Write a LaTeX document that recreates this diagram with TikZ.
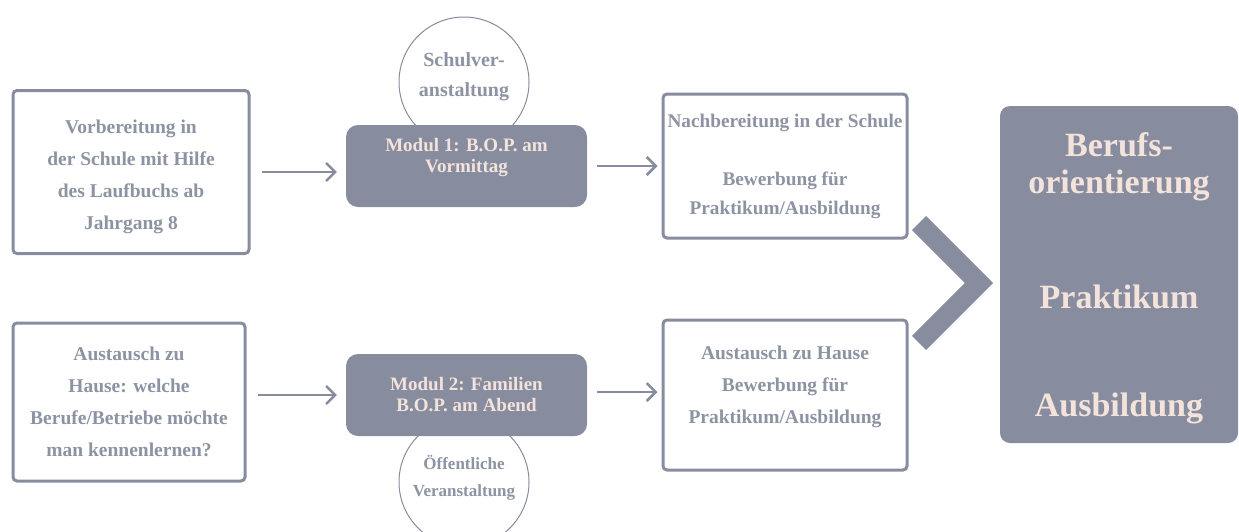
\documentclass[tikz,border=0pt]{standalone}
\usepackage{fontspec}
\setmainfont{Liberation Serif}
\usepackage{tikz}
\usetikzlibrary{positioning,arrows.meta,calc}
\definecolor{bopgrey}{HTML}{878D9F}
\definecolor{boppeach}{HTML}{F3E3DB}
\definecolor{boptext}{HTML}{8D93A3}
\begin{document}
\begin{tikzpicture}[
x=1pt,y=-1pt,
mybox/.style={
  draw=bopgrey,
  line width=3pt,
  rounded corners=4pt,
  fill=white,
  inner sep=0pt,
  align=center,
  text=boptext,
  font=\fontsize{19.5}{32}\selectfont\bfseries},
mymod/.style={
  fill=bopgrey,
  rounded corners=12pt,
  minimum width=241pt,
  minimum height=82pt},
modtext/.style={
  align=center,
  text=boppeach,
  font=\fontsize{19}{21}\selectfont\bfseries},
mycirc/.style={
  draw=bopgrey,
  line width=1pt,
  circle,
  fill=white,
  minimum size=130pt,
  inner sep=0pt},
circtext/.style={
  align=center,
  text=boptext}, 
myarrow/.style={
  draw=bopgrey,
  line width=2.5pt,
  -{Straight Barb[length=9pt,width=18pt,line width=2.5pt]}}
]
\useasboundingbox (0,0) rectangle (1239,531);
% circles behind the modules
\node[mycirc] (kreis1) at (464,82) {};
\node[circtext,font=\fontsize{20}{30}\selectfont\bfseries] at ([yshift=5pt]kreis1.center) {Schulver-\\anstaltung};
\node[mycirc] (kreis2) at (464,482) {};
\node[circtext,font=\fontsize{17}{27}\selectfont\bfseries] at ([yshift=4pt]kreis2.center) {Öffentliche\\Veranstaltung};
% left column
\node[mybox,minimum width=236pt,minimum height=163pt] (vorb) at (131,172) {};
\node[text=boptext,align=center,font=\fontsize{19.5}{32}\selectfont\bfseries]
  at ([yshift=-5pt]vorb.center) {Vorbereitung in\\der Schule mit Hilfe\\des Laufbuchs ab\\Jahrgang 8};
\node[mybox,minimum width=232pt,minimum height=158pt] (aust) at (129,402)
  {Austausch zu\\Hause: welche\\Berufe/Betriebe möchte\\man kennenlernen?};
% modules
\node[mymod] (mod1) at (466.5,166) {};
\node[modtext] at ([yshift=9pt]mod1.center) {Modul 1: B.O.P. am\\Vormittag};
\node[mymod] (mod2) at (466.5,395) {};
\node[modtext] at (mod2.center) {Modul 2: Familien\\B.O.P. am Abend};
% right column
\node[mybox,minimum width=244pt,minimum height=144pt,font=\fontsize{19.3}{29}\selectfont\bfseries] (nach) at (785,166)
  {Nachbereitung in der Schule\\[29pt]Bewerbung für\\Praktikum/Ausbildung};
\node[mybox,minimum width=244pt,minimum height=150pt] (haus) at (785,395) {};
\node[text=boptext,align=center,font=\fontsize{19.5}{32}\selectfont\bfseries]
  at ([yshift=8pt]haus.center) {Austausch zu Hause\\Bewerbung für\\Praktikum/Ausbildung};
% arrows
\draw[myarrow,shorten <=11pt,shorten >=9pt] (vorb.east) -- (vorb.east -| mod1.west);
\draw[myarrow,shorten <=11pt,shorten >=9pt] (mod2.west -| aust.east) -- (mod2.west);
\draw[myarrow,shorten <=10pt,shorten >=4pt] (mod1.east) -- (mod1.east -| nach.west);
\draw[myarrow,shorten <=10pt,shorten >=4pt] ([yshift=3pt]mod2.east) -- ([yshift=3pt]mod2.east -| haus.west);
% chevron and goal
\node[fill=bopgrey,rounded corners=10pt,minimum width=238pt,minimum height=337pt] (ziel) at (1119,274.5) {};
\draw[bopgrey,line width=20pt,miter limit=4] (919,223) coordinate (ch1) -- (979,283) coordinate (ch2) -- (919,343) coordinate (ch3);
\node[modtext,font=\fontsize{34}{37}\selectfont\bfseries] (beruf) at (1119,167) {Berufs-\\orientierung};
\node[modtext,font=\fontsize{34}{37}\selectfont\bfseries] (prak) at (1119,297) {Praktikum};
\node[modtext,font=\fontsize{34}{37}\selectfont\bfseries] (ausb) at (1119,408) {Ausbildung};
\end{tikzpicture}
\end{document}
